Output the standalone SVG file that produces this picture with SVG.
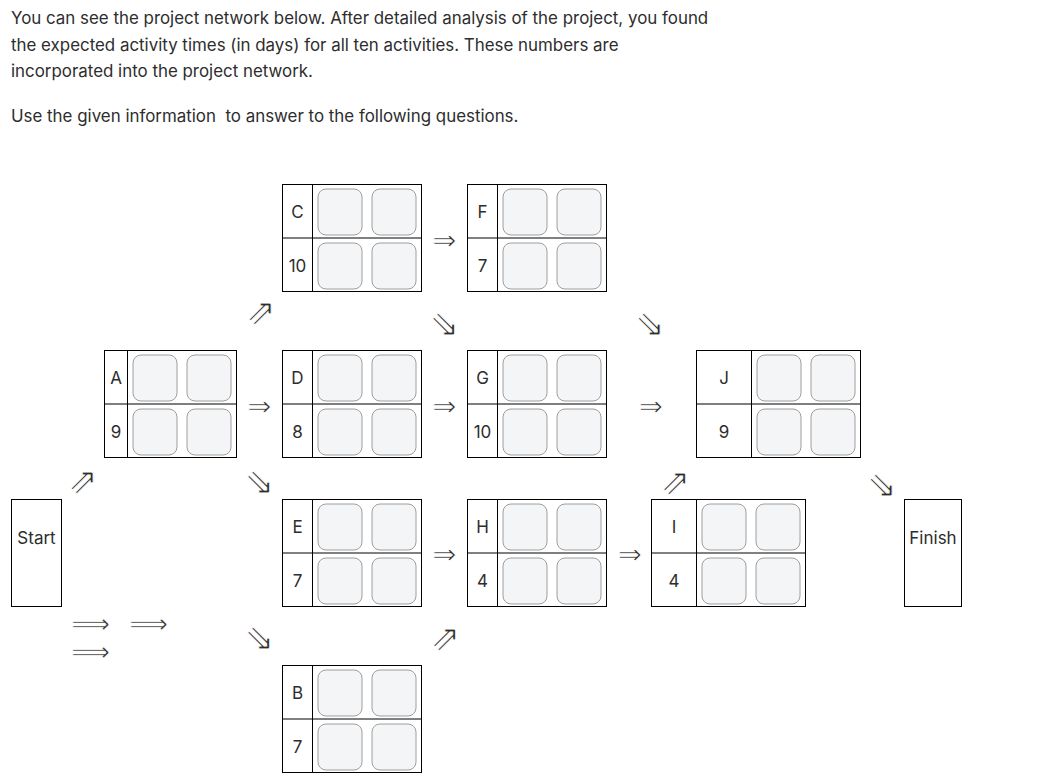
<svg xmlns="http://www.w3.org/2000/svg" width="1049" height="780" viewBox="0 0 1049 780">
<style>
.p{font-family:Inter,"Liberation Sans",sans-serif;font-size:16.9px;fill:#2d2d2d}
.lbl{font-family:Inter,"Liberation Sans",sans-serif;font-size:17px;fill:#2d2d2d;text-anchor:middle;dominant-baseline:central}
.box{fill:#fff;stroke:#000;stroke-width:1}
.ln{stroke:#000;stroke-width:1}
.in{fill:#f4f5f7;stroke:#9e9e9e;stroke-width:1}
.ar{font-family:"DejaVu Sans",sans-serif;font-size:29px;fill:#2d2d2d;stroke:#fff;stroke-width:0.8;paint-order:normal;text-anchor:middle;dominant-baseline:central}
.dg{font-size:36px;stroke-width:0.9}
.lg{font-size:27px;stroke-width:0.7}
</style>
<defs>
<rect id="inp" width="44" height="46" rx="8" class="in"/>
</defs>
<rect width="1049" height="780" fill="#fff"/>
<g id="intro">
<text class="p" x="11" y="24">You can see the project network below. After detailed analysis of the project, you found</text>
<text class="p" x="11" y="50.5">the expected activity times (in days) for all ten activities. These numbers are</text>
<text class="p" x="11" y="77">incorporated into the project network.</text>
<text class="p" x="11" y="122" xml:space="preserve">Use the given information  to answer to the following questions.</text>
</g>
<g id="start">
<rect class="box" x="11.5" y="499.5" width="50" height="107"/>
<text class="lbl" x="36.5" y="538">Start</text>
</g>
<g id="finish">
<rect class="box" x="904.5" y="499.5" width="57" height="107"/>
<text class="lbl" x="933" y="538">Finish</text>
</g>
<g id="A">
<rect class="box" x="104.5" y="350.5" width="132" height="107"/>
<line class="ln" x1="127.5" y1="350.5" x2="127.5" y2="457.5"/>
<line class="ln" x1="104.5" y1="404" x2="236.5" y2="404"/>
<text class="lbl" x="116" y="378">A</text><text class="lbl" x="116" y="432">9</text>
<use href="#inp" x="133" y="355"/><use href="#inp" x="187" y="355"/>
<use href="#inp" x="133" y="409"/><use href="#inp" x="187" y="409"/>
</g>
<g id="C">
<rect class="box" x="282.5" y="184.5" width="139" height="107"/>
<line class="ln" x1="312.5" y1="184.5" x2="312.5" y2="291.5"/>
<line class="ln" x1="282.5" y1="238" x2="421.5" y2="238"/>
<text class="lbl" x="297.5" y="212">C</text><text class="lbl" x="297.5" y="266">10</text>
<use href="#inp" x="318" y="189"/><use href="#inp" x="372" y="189"/>
<use href="#inp" x="318" y="243"/><use href="#inp" x="372" y="243"/>
</g>
<g id="F">
<rect class="box" x="467.5" y="184.5" width="139" height="107"/>
<line class="ln" x1="497.5" y1="184.5" x2="497.5" y2="291.5"/>
<line class="ln" x1="467.5" y1="238" x2="606.5" y2="238"/>
<text class="lbl" x="482.5" y="212">F</text><text class="lbl" x="482.5" y="266">7</text>
<use href="#inp" x="503" y="189"/><use href="#inp" x="557" y="189"/>
<use href="#inp" x="503" y="243"/><use href="#inp" x="557" y="243"/>
</g>
<g id="D">
<rect class="box" x="282.5" y="350.5" width="139" height="107"/>
<line class="ln" x1="312.5" y1="350.5" x2="312.5" y2="457.5"/>
<line class="ln" x1="282.5" y1="404" x2="421.5" y2="404"/>
<text class="lbl" x="297.5" y="378">D</text><text class="lbl" x="297.5" y="432">8</text>
<use href="#inp" x="318" y="355"/><use href="#inp" x="372" y="355"/>
<use href="#inp" x="318" y="409"/><use href="#inp" x="372" y="409"/>
</g>
<g id="G">
<rect class="box" x="467.5" y="350.5" width="139" height="107"/>
<line class="ln" x1="497.5" y1="350.5" x2="497.5" y2="457.5"/>
<line class="ln" x1="467.5" y1="404" x2="606.5" y2="404"/>
<text class="lbl" x="482.5" y="378">G</text><text class="lbl" x="482.5" y="432">10</text>
<use href="#inp" x="503" y="355"/><use href="#inp" x="557" y="355"/>
<use href="#inp" x="503" y="409"/><use href="#inp" x="557" y="409"/>
</g>
<g id="J">
<rect class="box" x="696.5" y="350.5" width="164" height="107"/>
<line class="ln" x1="751.5" y1="350.5" x2="751.5" y2="457.5"/>
<line class="ln" x1="696.5" y1="404" x2="860.5" y2="404"/>
<text class="lbl" x="724" y="378">J</text><text class="lbl" x="724" y="432">9</text>
<use href="#inp" x="757" y="355"/><use href="#inp" x="811" y="355"/>
<use href="#inp" x="757" y="409"/><use href="#inp" x="811" y="409"/>
</g>
<g id="E">
<rect class="box" x="282.5" y="499.5" width="139" height="107"/>
<line class="ln" x1="312.5" y1="499.5" x2="312.5" y2="606.5"/>
<line class="ln" x1="282.5" y1="553" x2="421.5" y2="553"/>
<text class="lbl" x="297.5" y="527">E</text><text class="lbl" x="297.5" y="581">7</text>
<use href="#inp" x="318" y="504"/><use href="#inp" x="372" y="504"/>
<use href="#inp" x="318" y="558"/><use href="#inp" x="372" y="558"/>
</g>
<g id="H">
<rect class="box" x="467.5" y="499.5" width="139" height="107"/>
<line class="ln" x1="497.5" y1="499.5" x2="497.5" y2="606.5"/>
<line class="ln" x1="467.5" y1="553" x2="606.5" y2="553"/>
<text class="lbl" x="482.5" y="527">H</text><text class="lbl" x="482.5" y="581">4</text>
<use href="#inp" x="503" y="504"/><use href="#inp" x="557" y="504"/>
<use href="#inp" x="503" y="558"/><use href="#inp" x="557" y="558"/>
</g>
<g id="I">
<rect class="box" x="651.5" y="499.5" width="154" height="107"/>
<line class="ln" x1="696.5" y1="499.5" x2="696.5" y2="606.5"/>
<line class="ln" x1="651.5" y1="553" x2="805.5" y2="553"/>
<text class="lbl" x="674" y="527">I</text><text class="lbl" x="674" y="581">4</text>
<use href="#inp" x="702" y="504"/><use href="#inp" x="756" y="504"/>
<use href="#inp" x="702" y="558"/><use href="#inp" x="756" y="558"/>
</g>
<g id="B">
<rect class="box" x="282.5" y="665.5" width="139" height="107"/>
<line class="ln" x1="312.5" y1="665.5" x2="312.5" y2="772.5"/>
<line class="ln" x1="282.5" y1="719" x2="421.5" y2="719"/>
<text class="lbl" x="297.5" y="693">B</text><text class="lbl" x="297.5" y="747">7</text>
<use href="#inp" x="318" y="670"/><use href="#inp" x="372" y="670"/>
<use href="#inp" x="318" y="724"/><use href="#inp" x="372" y="724"/>
</g>
<g id="connectors">
<text class="ar" x="444.5" y="240">⇒</text>
<text class="ar" x="259.5" y="406">⇒</text>
<text class="ar" x="444.5" y="406">⇒</text>
<text class="ar" x="651" y="406">⇒</text>
<text class="ar" x="444.5" y="554">⇒</text>
<text class="ar" x="630" y="554">⇒</text>
<text class="ar dg" x="261" y="311">⇗</text>
<text class="ar dg" x="444.5" y="323">⇘</text>
<text class="ar dg" x="650" y="323">⇘</text>
<text class="ar dg" x="83" y="480">⇗</text>
<text class="ar dg" x="259.5" y="481">⇘</text>
<text class="ar dg" x="675.5" y="481">⇗</text>
<text class="ar dg" x="882" y="484">⇘</text>
<text class="ar dg" x="259.5" y="637">⇘</text>
<text class="ar dg" x="445.5" y="637">⇗</text>
<text class="ar lg" x="90.5" y="623">⟹</text>
<text class="ar lg" x="148.5" y="623">⟹</text>
<text class="ar lg" x="90.5" y="651">⟹</text>
</g>
</svg>
